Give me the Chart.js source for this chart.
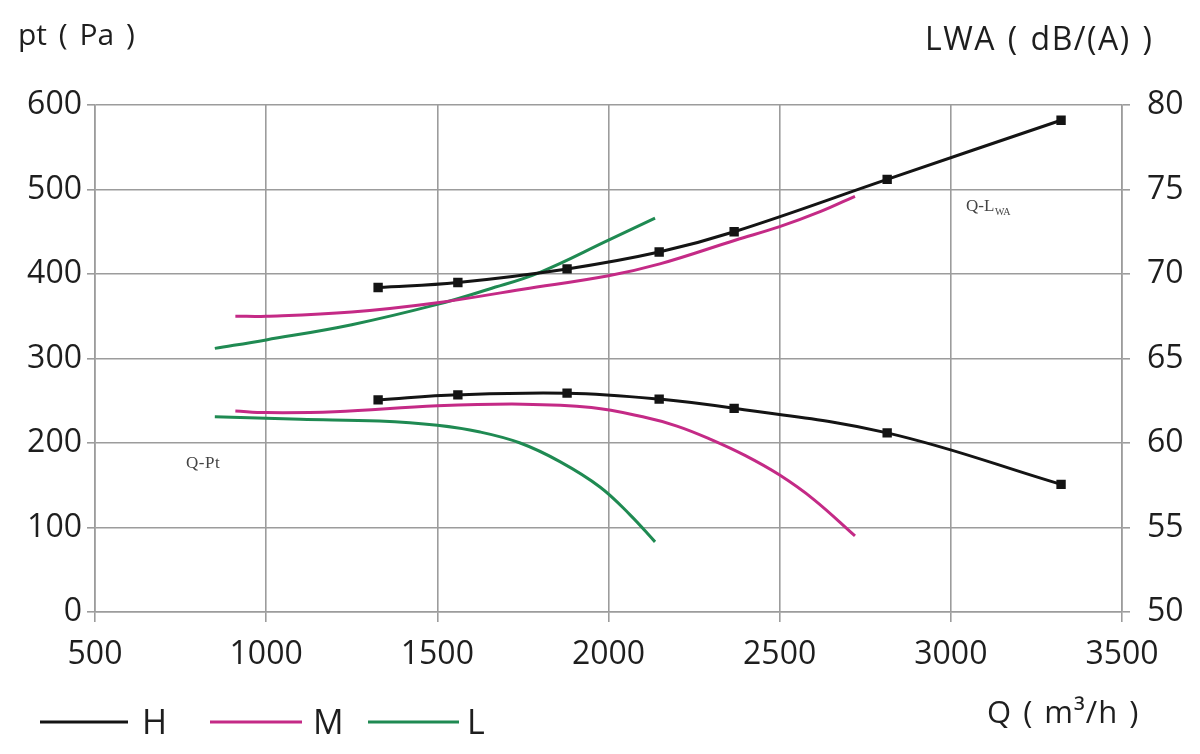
<!DOCTYPE html>
<html>
<head>
<meta charset="utf-8">
<script src="https://cdn.jsdelivr.net/npm/chart.js@4.4.1/dist/chart.umd.min.js"></script>
<style>
  html, body { margin: 0; padding: 0; background: #fff; }
  #wrap { width: 1200px; height: 754px; }
</style>
</head>
<body>
<div id="wrap"><canvas id="fanChart" width="1200" height="754"></canvas></div>
<script>
// axis ticks
const qTicks = [500, 1000, 1500, 2000, 2500, 3000, 3500];
const ptTicks = [0, 100, 200, 300, 400, 500, 600];
const lwaTicks = [50, 55, 60, 65, 70, 75, 80];

// H speed (marked points)
const hQ = [1327, 1560, 1879, 2148, 2367, 2814, 3322];
const hPt = [251, 257, 259, 252, 241, 212, 151];
const hLwa = [69.2, 69.5, 70.3, 71.3, 72.5, 75.6, 79.1];

// M speed
const mQpt = [910, 1000, 1200, 1500, 1750, 1950, 2100, 2200, 2300, 2400, 2500, 2600, 2720];
const mPt = [238, 236, 237, 244, 246, 242, 231, 220, 204, 185, 162, 133, 90];
const mQlwa = [910, 1000, 1250, 1500, 1750, 2000, 2150, 2370, 2500, 2620, 2720];
const mLwa = [67.5, 67.5, 67.75, 68.3, 69.1, 69.9, 70.6, 72.0, 72.8, 73.7, 74.6];

// L speed
const lQpt = [850, 1100, 1330, 1500, 1625, 1742, 1858, 1975, 2063, 2136];
const lPt = [231, 228, 226, 221, 213, 200, 178, 148, 115, 83];
const lQlwa = [850, 1000, 1250, 1500, 1650, 1800, 2000, 2136];
const lLwa = [65.6, 66.1, 67.0, 68.2, 69.1, 70.1, 72.0, 73.3];

const black = "#141414";
const magenta = "#c42a86";
const green = "#1f8a52";
const gridCol = "#9c9c9c";
const textCol = "#1e1e1e";
const fontFam = "'Open Sans', 'DejaVu Sans', sans-serif";

function pts(xs, ys) {
  return xs.map((x, i) => ({ x: x, y: ys[i] }));
}

function curve(label, xs, ys, color, axis, marks) {
  return {
    label: label,
    data: pts(xs, ys),
    yAxisID: axis,
    borderColor: color,
    backgroundColor: color,
    borderWidth: 3,
    pointStyle: "rect",
    pointRadius: marks ? 4.5 : 0,
    pointHoverRadius: marks ? 4.5 : 0,
    tension: 0.4,
    fill: false
  };
}

function spaced(ctx, txt, x, y, ls, ws) {
  ctx.letterSpacing = ls + "px";
  ctx.wordSpacing = ws + "px";
  ctx.fillText(txt, x, y);
  ctx.letterSpacing = "0px";
  ctx.wordSpacing = "0px";
}

// titles, curve notes and legend drawn on top
const textPlugin = {
  id: "fanText",
  afterDraw(chart) {
    const ctx = chart.ctx;
    ctx.save();
    ctx.fillStyle = textCol;
    ctx.textBaseline = "alphabetic";
    ctx.textAlign = "left";
    ctx.font = "30px " + fontFam;
    spaced(ctx, "pt ( Pa )", 18, 45, 0, 4);
    ctx.font = "32px " + fontFam;
    spaced(ctx, "LWA ( dB/(A) )", 925, 50, 1.5, 2);
    ctx.font = "31px " + fontFam;
    spaced(ctx, "Q ( m\u00b3/h )", 987, 723, 1, 2);

    ctx.font = "17px 'Liberation Serif', serif";
    ctx.fillStyle = "#444";
    spaced(ctx, "Q-Pt", 186, 468, 0.5, 0);
    ctx.fillText("Q-L", 966, 211);
    ctx.font = "10px 'Liberation Serif', serif";
    ctx.fillText("WA", 995, 215);

    const items = [
      { t: "H", c: black, x0: 40, x1: 128, tx: 142 },
      { t: "M", c: magenta, x0: 210, x1: 302, tx: 313 },
      { t: "L", c: green, x0: 368, x1: 459, tx: 467 }
    ];
    ctx.font = "34px " + fontFam;
    ctx.lineWidth = 3;
    items.forEach(it => {
      ctx.strokeStyle = it.c;
      ctx.beginPath();
      ctx.moveTo(it.x0, 722);
      ctx.lineTo(it.x1, 722);
      ctx.stroke();
      ctx.fillStyle = textCol;
      ctx.fillText(it.t, it.tx, 734);
    });
    ctx.restore();
  }
};

const tickFont = { family: fontFam, size: 32 };

const ctx = document.getElementById("fanChart");
new Chart(ctx, {
  type: "line",
  data: {
    datasets: [
      curve("H pt", hQ, hPt, black, "y", true),
      curve("H LWA", hQ, hLwa, black, "y2", true),
      curve("M pt", mQpt, mPt, magenta, "y", false),
      curve("M LWA", mQlwa, mLwa, magenta, "y2", false),
      curve("L pt", lQpt, lPt, green, "y", false),
      curve("L LWA", lQlwa, lLwa, green, "y2", false)
    ]
  },
  options: {
    responsive: false,
    animation: false,
    layout: { padding: { top: 105, left: 0, right: 0, bottom: 0 } },
    plugins: {
      legend: { display: false },
      tooltip: { enabled: false }
    },
    scales: {
      x: {
        type: "linear",
        min: qTicks[0],
        max: qTicks[qTicks.length - 1],
        afterBuildTicks: (s) => { s.ticks = qTicks.map(v => ({ value: v })); },
        afterFit: (s) => { s.height = 142; },
        grid: { color: gridCol, lineWidth: 1.6, tickLength: 10 },
        border: { color: gridCol, width: 1.6 },
        ticks: { color: textCol, padding: 14, font: tickFont, callback: (v) => String(v) }
      },
      y: {
        position: "left",
        min: ptTicks[0],
        max: ptTicks[ptTicks.length - 1],
        afterBuildTicks: (s) => { s.ticks = ptTicks.map(v => ({ value: v })); },
        afterFit: (s) => { s.width = 95; },
        grid: { color: gridCol, lineWidth: 1.6, tickLength: 8 },
        border: { color: gridCol, width: 1.6 },
        ticks: { color: textCol, padding: 5, font: tickFont, callback: (v) => String(v) }
      },
      y2: {
        position: "right",
        min: lwaTicks[0],
        max: lwaTicks[lwaTicks.length - 1],
        afterBuildTicks: (s) => { s.ticks = lwaTicks.map(v => ({ value: v })); },
        afterFit: (s) => { s.width = 78; },
        grid: { color: gridCol, lineWidth: 1.6, tickLength: 8, drawOnChartArea: false },
        border: { color: gridCol, width: 1.6 },
        ticks: { color: textCol, padding: 17, font: tickFont, callback: (v) => String(v) }
      }
    }
  },
  plugins: [textPlugin]
});
</script>
</body>
</html>
